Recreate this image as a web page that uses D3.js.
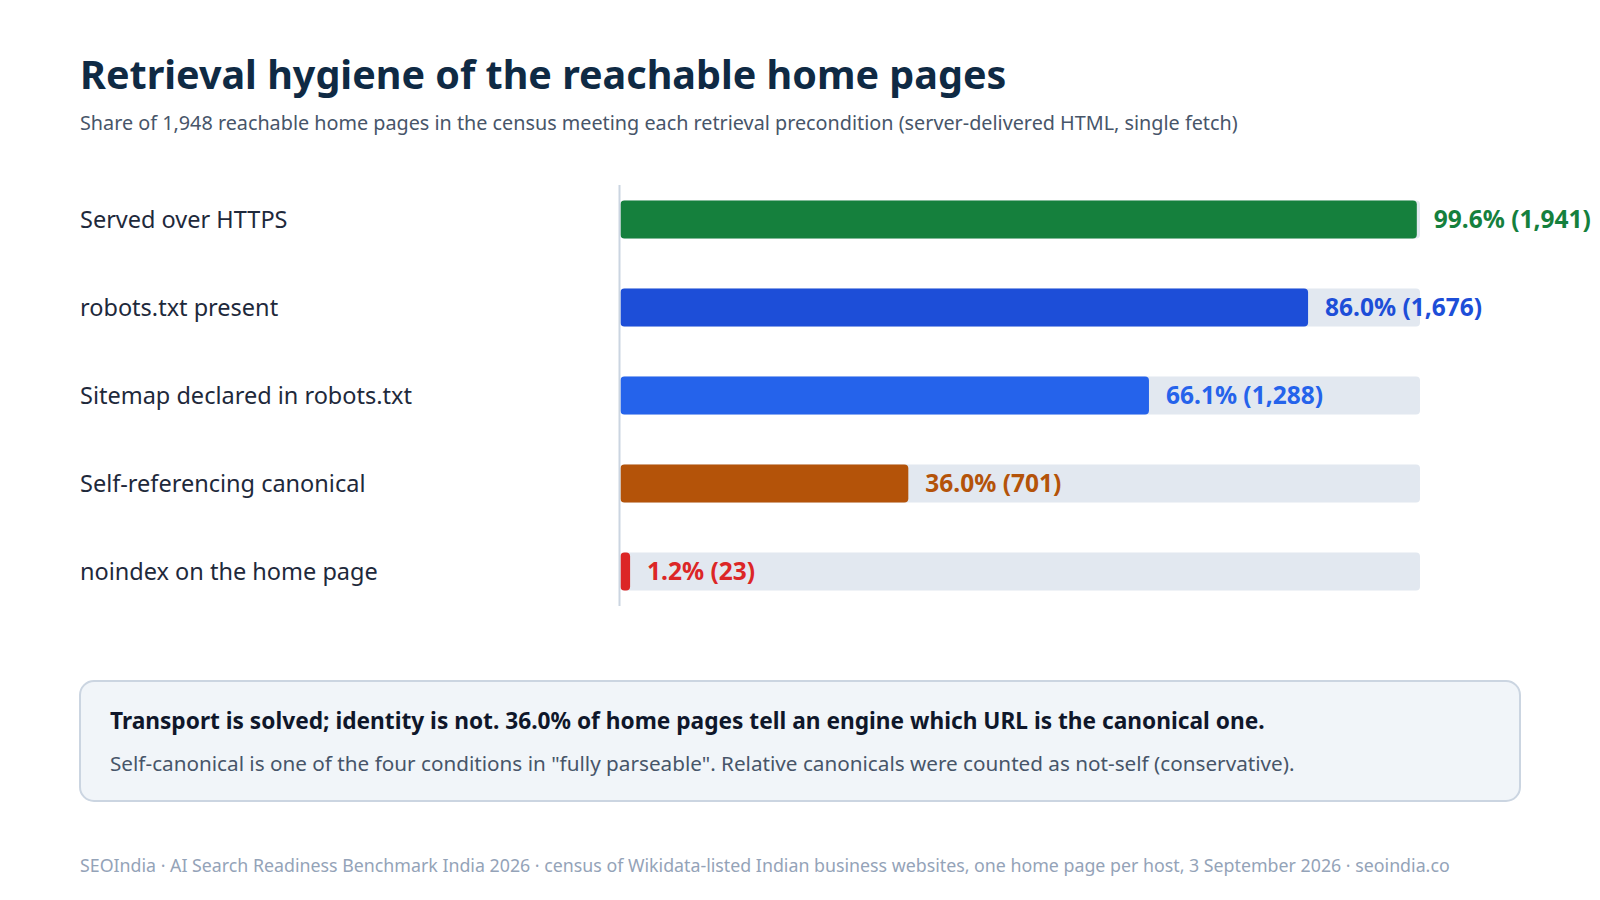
<!DOCTYPE html>
<html>
<head>
<meta charset="utf-8">
<script src="https://cdn.jsdelivr.net/npm/d3@7"></script>
<style>
  html, body { margin: 0; padding: 0; background: #ffffff; }
  body { width: 1600px; height: 900px; overflow: hidden; font-family: "Noto Sans", "Open Sans", sans-serif; }
</style>
</head>
<body>
<svg id="chart" width="1600" height="900"></svg>
<script>
const title = "Retrieval hygiene of the reachable home pages";
const subtitle = "Share of 1,948 reachable home pages in the census meeting each retrieval precondition (server-delivered HTML, single fetch)";
const categories = ["Served over HTTPS", "robots.txt present", "Sitemap declared in robots.txt", "Self-referencing canonical", "noindex on the home page"];
const shares = [99.6, 86.0, 66.1, 36.0, 1.2];
const counts = [1941, 1676, 1288, 701, 23];
const barColors = ["#15803d", "#1d4ed8", "#2563eb", "#b45309", "#dc2626"];
const calloutHead = "Transport is solved; identity is not. 36.0% of home pages tell an engine which URL is the canonical one.";
const calloutBody = "Self-canonical is one of the four conditions in \"fully parseable\". Relative canonicals were counted as not-self (conservative).";
const footer = "SEOIndia · AI Search Readiness Benchmark India 2026 · census of Wikidata-listed Indian business websites, one home page per host, 3 September 2026 · seoindia.co";

const svg = d3.select("#chart");
const font = "'Noto Sans', 'Open Sans', sans-serif";

svg.append("text").attr("x", 80).attr("y", 89)
  .attr("font-family", font).attr("font-size", 39.5).attr("font-weight", 700)
  .attr("fill", "#0f2a44").text(title);
svg.append("text").attr("x", 80).attr("y", 130)
  .attr("font-family", font).attr("font-size", 19.8)
  .attr("fill", "#475569").text(subtitle);

const x = d3.scaleLinear().domain([0, 100]).range([620.5, 1420]);
const y = d3.scaleBand().domain(categories).range([185, 606]).paddingInner(0.568).paddingOuter(0.176);

const rows = svg.append("g").selectAll("g").data(categories).join("g");

// tracks
rows.append("rect")
  .attr("x", x(0)).attr("y", d => y(d))
  .attr("width", x(100) - x(0)).attr("height", y.bandwidth())
  .attr("rx", 4).attr("fill", "#e2e8f0");

// bars
rows.append("rect")
  .attr("x", x(0)).attr("y", d => y(d))
  .attr("width", (d, i) => x(shares[i]) - x(0)).attr("height", y.bandwidth())
  .attr("rx", 4).attr("fill", (d, i) => barColors[i]);

// category labels
rows.append("text")
  .attr("x", 80).attr("y", d => y(d) + y.bandwidth() / 2)
  .attr("dy", "0.35em")
  .attr("font-family", font).attr("font-size", 23.5)
  .attr("fill", "#1e293b").text(d => d);

// value labels
rows.append("text")
  .attr("x", (d, i) => x(shares[i]) + 17).attr("y", d => y(d) + y.bandwidth() / 2)
  .attr("dy", "0.35em")
  .attr("font-family", font).attr("font-size", 24.5).attr("font-weight", 700)
  .attr("fill", (d, i) => barColors[i])
  .text((d, i) => d3.format(".1f")(shares[i]) + "% (" + d3.format(",")(counts[i]) + ")");

// axis line
svg.append("line")
  .attr("x1", 619.5).attr("x2", 619.5).attr("y1", 185).attr("y2", 606)
  .attr("stroke", "#cbd5e1").attr("stroke-width", 2);

// callout
svg.append("rect").attr("x", 80).attr("y", 681).attr("width", 1440).attr("height", 120)
  .attr("rx", 14).attr("fill", "#f1f5f9").attr("stroke", "#cbd5e1").attr("stroke-width", 2);
svg.append("text").attr("x", 110).attr("y", 729)
  .attr("font-family", font).attr("font-size", 22.7).attr("font-weight", 700)
  .attr("fill", "#0f172a").text(calloutHead);
svg.append("text").attr("x", 110).attr("y", 771)
  .attr("font-family", font).attr("font-size", 20.7)
  .attr("fill", "#475569").text(calloutBody);

svg.append("text").attr("x", 80).attr("y", 872)
  .attr("font-family", font).attr("font-size", 17.8)
  .attr("fill", "#94a3b8").text(footer);
</script>
</body>
</html>
